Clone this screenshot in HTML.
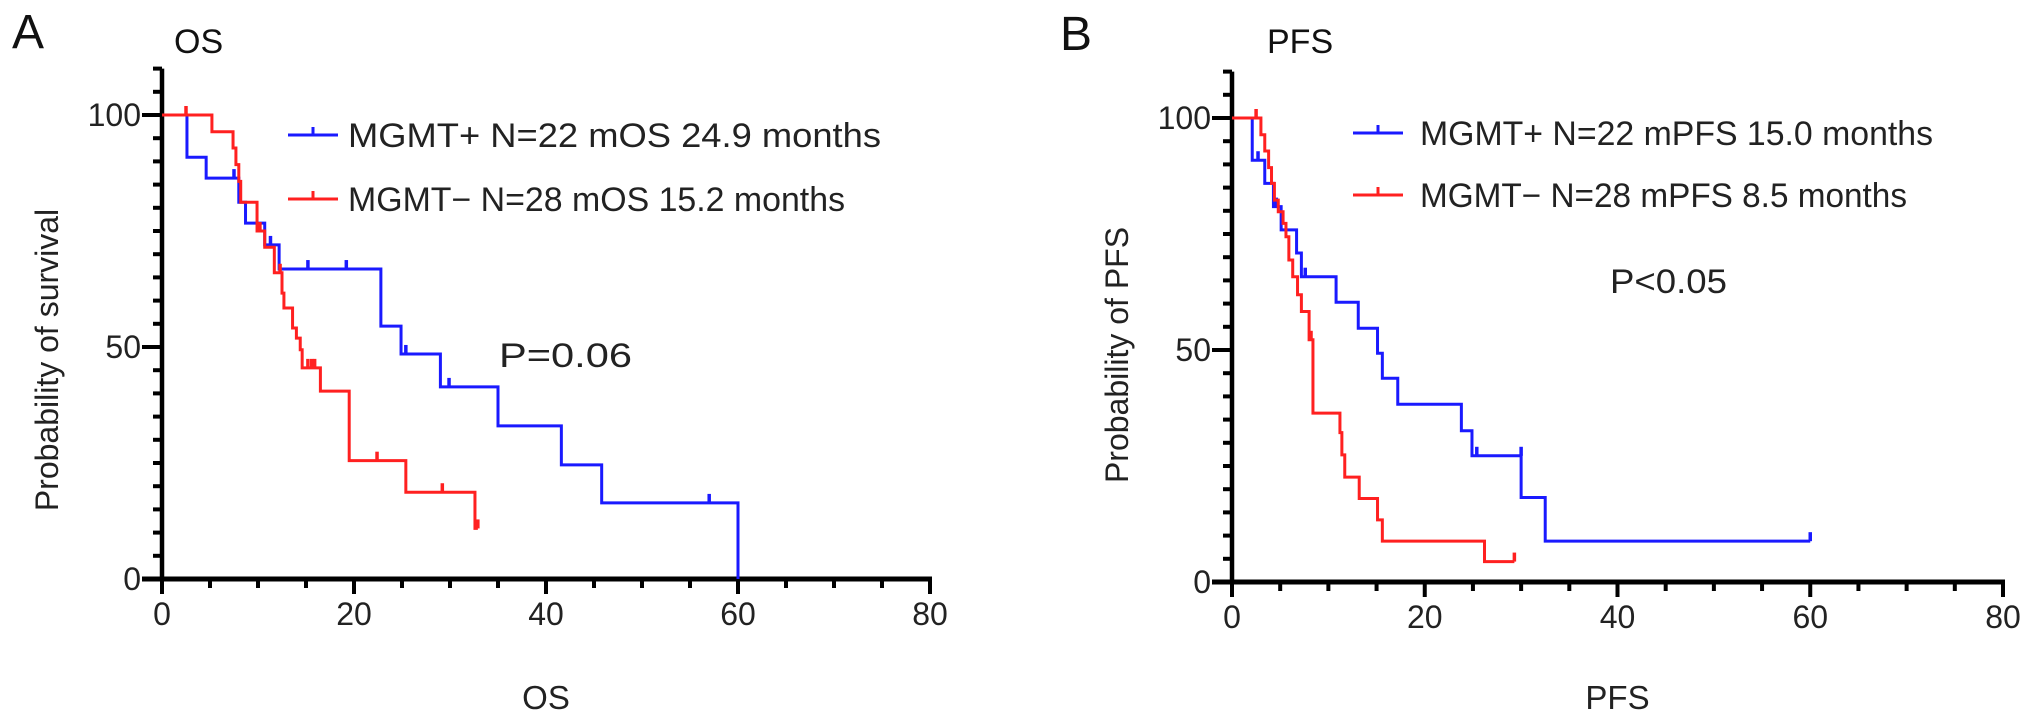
<!DOCTYPE html>
<html><head><meta charset="utf-8"><style>
html,body{margin:0;padding:0;background:#fff;}
svg{display:block;font-family:"Liberation Sans",Arial,sans-serif;}
</style></head><body>
<svg id="fig" width="2032" height="713" viewBox="0 0 2032 713" xmlns="http://www.w3.org/2000/svg">
<text x="12" y="48" font-size="48" fill="#111">A</text>
<text x="174" y="53" font-size="34" fill="#111">OS</text>
<text x="1060" y="50" font-size="48" fill="#111">B</text>
<text x="1267" y="53" font-size="34" fill="#111">PFS</text>
<g id="chartA"></g>
<g id="chartB"></g>
</svg>
<script>
// ---- OS panel data ----
const osBlueEvents = [[2.6,90.9],[4.6,86.4],[8.0,81.2],[8.7,76.7],[10.7,72],[12.2,66.8],[22.8,54.5],[24.9,48.5],[29,41.4],[35,33],[41.6,24.6],[45.8,16.4],[60,0]];
const osBlueCensors = [[7.5,86.4],[11.3,72],[15.2,66.8],[19.2,66.8],[25.4,48.5],[29.9,41.4],[57,16.4]];
const osBlueEnd = 60;
const osRedEvents = [[5.2,96.4],[7.4,92.9],[7.7,89.3],[8.0,85.7],[8.2,81.2],[9.9,75],[10.7,71.5],[11.7,66],[12.5,61.6],[12.7,58.4],[13.6,54.1],[14.0,51.9],[14.4,49.4],[14.6,45.5],[16.5,40.5],[19.5,25.5],[25.4,18.7],[32.6,10.9]];
const osRedCensors = [[2.5,100],[10.2,75],[12.3,66],[15.2,45.5],[15.6,45.5],[15.9,45.5],[22.4,25.5],[29.2,18.7],[32.9,10.9]];
const osRedEnd = 32.9;
// ---- PFS panel data ----
const pfsBlueEvents = [[2.1,90.9],[3.4,85.9],[4.3,80.9],[5.1,75.9],[6.7,70.9],[7.2,65.8],[10.8,60.3],[13.1,54.7],[15.1,49.3],[15.6,43.9],[17.2,38.3],[23.8,32.6],[24.9,27.2],[30.0,18.2],[32.5,8.8]];
const pfsBlueCensors = [[2.7,90.9],[4.6,80.9],[7.6,65.8],[25.4,27.2],[30.0,27.2],[60,8.8]];
const pfsBlueEnd = 60;
const pfsRedEvents = [[3.0,96.4],[3.4,92.9],[3.8,89.3],[4.1,85.9],[4.4,82.3],[4.8,79.8],[5.3,77.3],[5.6,74.4],[5.9,69.4],[6.3,65.8],[6.8,61.9],[7.2,58.3],[8.0,52.2],[8.4,36.4],[11.2,32.2],[11.4,27.4],[11.7,22.6],[13.2,18.0],[15.1,13.4],[15.6,8.8],[26.2,4.4]];
const pfsRedCensors = [[2.5,100],[8.2,52.2],[29.3,4.4]];
const pfsRedEnd = 29.3;
const xTicks = [0,20,40,60,80];
const yTicks = [0,50,100];

const NS = "http://www.w3.org/2000/svg";
function mk(tag, attrs, parent){const e=document.createElementNS(NS,tag);for(const k in attrs)e.setAttribute(k,attrs[k]);parent.appendChild(e);return e;}

function drawPanel(g, cfg){
  const X = v => cfg.x0 + v*(cfg.x1-cfg.x0)/80;
  const Y = v => cfg.y0 - v*(cfg.y0-cfg.y100)/100;
  const ya = mk('line',{x1:X(0),x2:X(0),y1:Y(0)+2,y2:Y(110),stroke:'#000','stroke-width':4.5},g);
   
  const xa = mk('line',{x1:X(0)-20,x2:X(80)+2,y1:Y(0),y2:Y(0),stroke:'#000','stroke-width':5},g);
   
  for(let v=5; v<=110; v+=5){
    const maj = v%50===0;
    const t = mk('line',{x1:X(0)-(maj?20:9),x2:X(0),y1:Y(v),y2:Y(v),stroke:'#000','stroke-width':4},g);
     
  }
  for(let v=0; v<=80; v+=5){
    const maj = v%20===0;
    const t = mk('line',{x1:X(v),x2:X(v),y1:Y(0),y2:Y(0)+(maj?15:9),stroke:'#000','stroke-width':4},g);
     
  }
  xTicks.forEach(v=>{
    const t = mk('text',{x:X(v),y:Y(0)+46,'font-size':32,'text-anchor':'middle',fill:'#222'},g);
    t.textContent = v;
     
  });
  yTicks.forEach(v=>{
    const t = mk('text',{x:X(0)-21,y:Y(v)+11,'font-size':32,'text-anchor':'end',fill:'#222'},g);
    t.textContent = v;
     
  });
  const xt = mk('text',{x:(X(0)+X(80))/2,y:709,'font-size':33,'text-anchor':'middle',fill:'#222'},g);
  xt.textContent = cfg.xTitle;
   
  const yt = mk('text',{x:0,y:0,'font-size':32,'text-anchor':'middle',fill:'#222',transform:`translate(${X(0)-104},${cfg.yTitleY}) rotate(-90)`},g);
  yt.textContent = cfg.yTitle;
   
  cfg.series.forEach(s=>{
    let d = `M${X(0)},${Y(100)}`;
    s.events.forEach(e=>{ d += ` H${X(e[0])} V${Y(e[1])}`; });
    if(s.end > s.events[s.events.length-1][0]) d += ` H${X(s.end)}`;
    const p = mk('path',{d:d,fill:'none',stroke:s.color,'stroke-width':3},g);
     
    s.censors.forEach(c=>{
      const m = mk('line',{x1:X(c[0]),x2:X(c[0]),y1:Y(c[1]),y2:Y(c[1])-9,stroke:s.color,'stroke-width':3.5},g);
       
    });
  });
  cfg.legend.forEach(l=>{
    const ln = mk('line',{x1:l.lx,x2:l.lx+50,y1:l.y,y2:l.y,stroke:l.color,'stroke-width':3},g);
     
    const tk = mk('line',{x1:l.lx+25,x2:l.lx+25,y1:l.y,y2:l.y-8,stroke:l.color,'stroke-width':3},g);
     
    const tx = mk('text',{x:l.tx,y:l.y+12,'font-size':34,fill:'#222',textLength:l.len,lengthAdjust:'spacingAndGlyphs'},g);
    tx.textContent = l.text;
     
  });
  const pv = mk('text',{x:cfg.px,y:cfg.py,'font-size':34,fill:'#222',textLength:cfg.plen,lengthAdjust:'spacingAndGlyphs'},g);
  pv.textContent = cfg.ptext;
   
}

drawPanel(document.getElementById('chartA'),{
  x0:162,x1:930,y0:579,y100:115,xTitle:'OS',yTitle:'Probability of survival',yTitleY:360,
  series:[
    {name:'mgmt-pos',color:'#1a1aff',events:osBlueEvents,censors:osBlueCensors,end:osBlueEnd},
    {name:'mgmt-neg',color:'#ff2020',events:osRedEvents,censors:osRedCensors,end:osRedEnd}
  ],
  legend:[
    {lx:288,y:135,tx:348,len:533,color:'#1a1aff',text:'MGMT+ N=22 mOS 24.9 months'},
    {lx:288,y:199,tx:348,len:497,color:'#ff2020',text:'MGMT\u2212 N=28 mOS 15.2 months'}
  ],
  px:499,py:367,plen:133,ptext:'P=0.06'
});
drawPanel(document.getElementById('chartB'),{
  x0:1232,x1:2003,y0:582,y100:118,xTitle:'PFS',yTitle:'Probability of PFS',yTitleY:355,
  series:[
    {name:'mgmt-pos',color:'#1a1aff',events:pfsBlueEvents,censors:pfsBlueCensors,end:pfsBlueEnd},
    {name:'mgmt-neg',color:'#ff2020',events:pfsRedEvents,censors:pfsRedCensors,end:pfsRedEnd}
  ],
  legend:[
    {lx:1353,y:133,tx:1420,len:513,color:'#1a1aff',text:'MGMT+ N=22 mPFS 15.0 months'},
    {lx:1353,y:195,tx:1420,len:487,color:'#ff2020',text:'MGMT\u2212 N=28 mPFS 8.5 months'}
  ],
  px:1610,py:293,plen:117,ptext:'P<0.05'
});
</script>
</body></html>
